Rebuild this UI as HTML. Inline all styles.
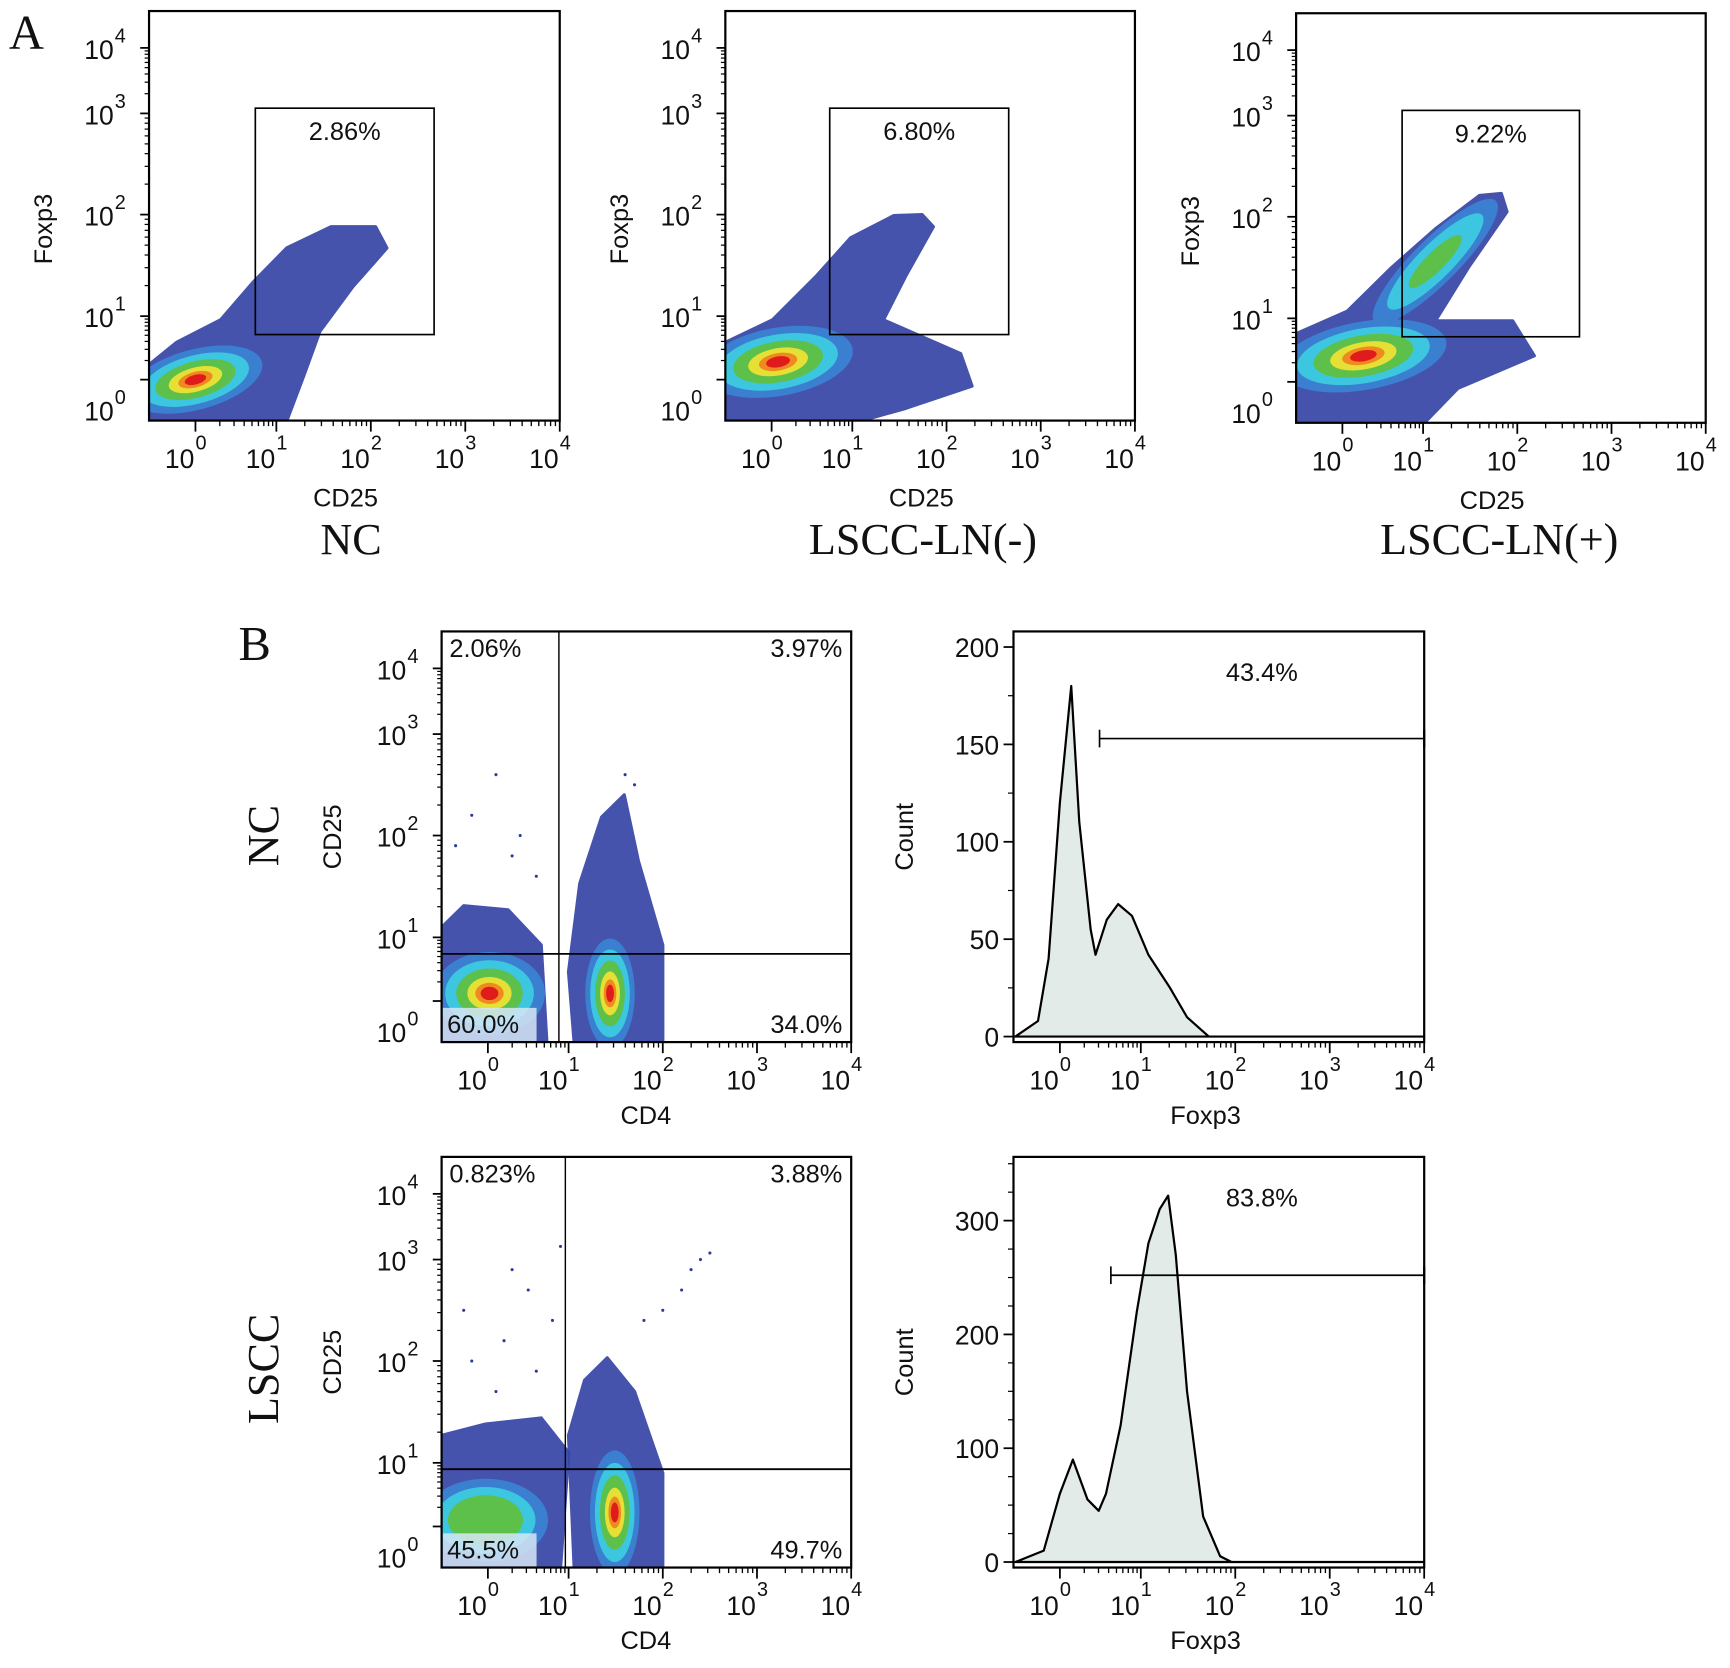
<!DOCTYPE html>
<html><head><meta charset="utf-8"><style>
html,body{margin:0;padding:0;background:#fff;}
svg{display:block;}
text{font-family:"Liberation Sans",Arial,sans-serif;fill:#111;}
.serif{font-family:"Liberation Serif","Times New Roman",serif;}
</style></head><body>
<svg id="fig" width="1730" height="1668" viewBox="0 0 1567 1511" preserveAspectRatio="none" xmlns="http://www.w3.org/2000/svg">
<text class="serif" x="8" y="44" font-size="44">A</text>
<text class="serif" x="216" y="598" font-size="44">B</text>
<text class="serif" x="318" y="502" font-size="40" text-anchor="middle">NC</text>
<text class="serif" x="836" y="502" font-size="40" text-anchor="middle">LSCC-LN(-)</text>
<text class="serif" x="1358" y="502" font-size="40" text-anchor="middle">LSCC-LN(+)</text>
<text class="serif" transform="translate(252,757) rotate(-90)" font-size="40" text-anchor="middle">NC</text>
<text class="serif" transform="translate(252,1240) rotate(-90)" font-size="40" text-anchor="middle">LSCC</text>
</svg>
<script>
// ---- data (decade units for log axes, counts for histograms) ----
const decadeTicks = [0, 1, 2, 3, 4];
const ncHistTicks = [0, 50, 100, 150, 200];
const lsccHistTicks = [0, 100, 200, 300];

const aNcCloud = [[-0.57,-0.65],[-0.57,0.24],[-0.23,0.59],[0.31,0.94],[0.72,1.34],[1.11,1.67],[1.58,1.88],[2.05,1.88],[2.17,1.67],[1.81,1.29],[1.46,0.76],[1.29,0.06],[1.11,-0.65]];
const aNcBlob = [0.0, 0.0, 0.68, 0.38, -15];
const aNcGate = [0.74, 2.67, 0.71, 3.08];
const aNcPct = ["2.86%"];

const aNegCloud = [[-0.57,-0.65],[-0.57,0.59],[0.01,0.94],[0.56,1.4],[0.98,1.77],[1.44,1.99],[1.74,2.0],[1.86,1.88],[1.57,1.4],[1.33,0.94],[2.15,0.41],[2.27,-0.1],[1.57,-0.45],[1.09,-0.65]];
const aNegBlob = [0.08, 0.28, 0.75, 0.43, -10];
const aNegGate = [0.72, 2.66, 0.71, 3.08];
const aNegPct = ["6.80%"];

const aPosCloud = [[-0.57,-0.65],[-0.57,0.76],[0.06,1.07],[0.61,1.5],[1.13,1.88],[1.6,2.21],[1.83,2.23],[1.89,2.05],[1.48,1.5],[1.13,0.96],[1.95,0.96],[2.18,0.41],[1.37,-0.1],[1.01,-0.65]];
const aPosBlob = [0.26, 0.41, 0.82, 0.43, -10];
const aPosStreak = [1.13, 1.56, 0.7, 0.17, -45];
const aPosGate = [0.74, 2.66, 0.71, 3.08];
const aPosPct = ["9.22%"];

const bNcLeftCloud = [[-0.57,-0.65],[-0.57,1.1],[-0.3,1.31],[0.25,1.27],[0.66,0.88],[0.73,-0.65]];
const bNcLeftBlob = [0.02, 0.12, 0.55, 0.52, 0];
const bNcRightCloud = [[1.06,-0.65],[1.0,0.46],[1.12,1.53],[1.35,2.18],[1.59,2.4],[1.74,1.75],[2.0,0.88],[2.0,-0.65]];
const bNcRightBlob = [1.44, 0.12, 0.21, 0.69, 0];
const bNcQuad = [0.88, 0.74];
const bNcPcts = ["2.06%", "3.97%", "60.0%", "34.0%"];
const bNcDots = [[0.1,2.6],[-0.2,2.2],[0.4,2.0],[0.3,1.8],[-0.4,1.9],[0.6,1.6],[1.6,2.6],[1.7,2.5]];

const bLsLeftCloud = [[-0.57,-0.65],[-0.57,1.27],[-0.03,1.38],[0.66,1.44],[1.0,1.1],[0.9,-0.65]];
const bLsLeftBlob = [-0.03, 0.1, 0.62, 0.52, 0];
const bLsRightCloud = [[1.06,-0.65],[1.0,1.27],[1.17,1.81],[1.41,2.03],[1.7,1.7],[2.0,0.84],[2.0,-0.65]];
const bLsRightBlob = [1.49, 0.22, 0.21, 0.78, 0];
const bLsQuad = [0.96, 0.90];
const bLsPcts = ["0.823%", "3.88%", "45.5%", "49.7%"];
const bLsDots = [[2.0,2.5],[2.2,2.7],[2.4,3.0],[2.5,3.1],[2.3,2.9],[1.8,2.4],[0.3,2.9],[0.5,2.7],[0.9,3.2],[0.2,2.2],[-0.2,2.0],[0.6,1.9],[0.1,1.7],[0.8,2.4],[-0.3,2.5]];

const histNcX = [-0.55,-0.27,-0.14,0,0.14,0.24,0.38,0.44,0.58,0.72,0.89,1.08,1.31,1.49,1.72,4];
const histNcY = [0,8,40,120,180,110,55,42,60,68,62,42,25,10,0,0];
const histNcGate = [0.49, 153];
const histNcPct = ["43.4%"];
const histLsX = [-0.55,-0.2,0,0.16,0.34,0.48,0.57,0.75,0.95,1.08,1.2,1.29,1.37,1.49,1.66,1.84,1.96,4];
const histLsY = [0,10,60,90,55,45,60,120,220,280,310,322,270,150,40,5,0,0];
const histLsGate = [0.63, 252];
const histLsPct = ["83.8%"];

// ---- helpers ----
const NS = "http://www.w3.org/2000/svg";
const svg = document.getElementById("fig");
function mk(tag, attrs, parent) {
  const e = document.createElementNS(NS, tag);
  for (const k in attrs) e.setAttribute(k, attrs[k]);
  (parent || svg).appendChild(e);
  return e;
}
const xA = [0.113, 0.31, 0.54, 0.77, 1.0];
const yA = [0.10, 0.255, 0.503, 0.75, 0.91];
function frac(anch, slope0, d) {
  if (d <= 0) return anch[0] + d * slope0;
  const i = Math.min(3, Math.floor(d));
  return anch[i] + (d - i) * (anch[i + 1] - anch[i]);
}
function X(p, d) { return p.x0 + p.w * frac(xA, 0.197, d); }
function Y(p, d) { return p.y0 + p.h * (1 - frac(yA, 0.155, d)); }

function frame(p, name) {
  const r = mk("rect", {x:p.x0, y:p.y0, width:p.w, height:p.h, fill:"none", stroke:"#000", "stroke-width":2});
  
  
}
function label(x, y, s, size, anchor, name, rot) {
  const t = mk("text", {x:x, y:y, "font-size":size, "text-anchor":anchor || "start"});
  if (rot) { t.setAttribute("transform", "rotate(-90 " + x + " " + y + ")"); }
  t.textContent = s;
  
  
  return t;
}
function logXAxis(p, name) {
  const by = p.y0 + p.h;
  for (const d of decadeTicks) {
    const x = X(p, d);
    const t = mk("line", {x1:x, y1:by, x2:x, y2:by + 10, stroke:"#000", "stroke-width":1.6});
    
    
    if (d < 4) for (let k = 2; k < 10; k++) {
      const xm = X(p, d + Math.log10(k));
      const m = mk("line", {x1:xm, y1:by, x2:xm, y2:by + 5, stroke:"#000", "stroke-width":1.2});
      
      
    }
    label(x - 1, by + 43, "10", 24, "end", name + "-x-tick-label");
    label(x, by + 26, String(d), 18, "start", name + "-x-tick-exponent");
  }
}
function logYAxis(p, name) {
  const lx = p.x0;
  for (const d of decadeTicks) {
    const y = Y(p, d);
    const t = mk("line", {x1:lx, y1:y, x2:lx - 8, y2:y, stroke:"#000", "stroke-width":1.6});
    
    
    if (d < 4) for (let k = 2; k < 10; k++) {
      const ym = Y(p, d + Math.log10(k));
      const m = mk("line", {x1:lx, y1:ym, x2:lx - 4, y2:ym, stroke:"#000", "stroke-width":1.1});
      
      
    }
    const base = d === 0 ? p.y0 + p.h + 0 : y + 10;
    label(lx - 32, base, "10", 24, "end", name + "-y-tick-label");
    label(lx - 31, base - 15, String(d), 18, "start", name + "-y-tick-exponent");
  }
}
function cloud(p, pts, name, color) {
  const s = pts.map(q => X(p, q[0]).toFixed(1) + "," + Y(p, q[1]).toFixed(1)).join(" ");
  const e = mk("polygon", {points:s, fill:color || "#3645a6", stroke:color || "#3645a6", "stroke-width":3, "stroke-linejoin":"round", opacity:0.92});
  
  
}
const levelColors = ["#3b7fd0", "#3cc6e0", "#5cc04a", "#e6df35", "#f08a20", "#e01b1b"];
const levelScales = [1.25, 1.0, 0.75, 0.5, 0.32, 0.2];
function blob(p, b, name, nLevels) {
  const cx = X(p, b[0]), cy = Y(p, b[1]);
  const rx = X(p, b[0] + b[2]) - cx, ry = cy - Y(p, b[1] + b[3]);
  const n = nLevels || levelColors.length;
  for (let i = 0; i < n; i++) {
    const e = mk("ellipse", {cx:cx, cy:cy, rx:Math.abs(rx) * levelScales[i], ry:Math.abs(ry) * levelScales[i], fill:levelColors[i], transform:"rotate(" + b[4] + " " + cx + " " + cy + ")"});
    
    
  }
}
function dots(p, list, name) {
  for (const q of list) {
    const c = mk("circle", {cx:X(p, q[0]), cy:Y(p, q[1]), r:1.4, fill:"#2a3a9a"});
    
    
  }
}
function clipTo(p, id) {
  const cp = mk("clipPath", {id:id});
  mk("rect", {x:p.x0, y:p.y0, width:p.w, height:p.h}, cp);
  const g = mk("g", {"clip-path":"url(#" + id + ")"});
  return g;
}

// ---- Panel A ----
function panelA(p, cloudPts, blobArr, gate, pct, name, extra) {
  const g = clipTo(p, name + "-clip");
  
  
  cloud(p, cloudPts, name + "-event-cloud");
  g.appendChild(svg.lastChild);
  if (extra) { blobInto(g, p, extra, name + "-streak", [0, 1, 2]); }
  const before = svg.childNodes.length;
  blob(p, blobArr, name + "-main-population");
  while (svg.childNodes.length > before) g.appendChild(svg.childNodes[before]);
  frame(p, name);
  logXAxis(p, name);
  logYAxis(p, name);
  const gx1 = X(p, gate[0]), gx2 = X(p, gate[1]), gy1 = Y(p, gate[3]), gy2 = Y(p, gate[2]);
  const r = mk("rect", {x:gx1, y:gy1, width:gx2 - gx1, height:gy2 - gy1, fill:"none", stroke:"#000", "stroke-width":1.5});
  
  
  label((gx1 + gx2) / 2, gy1 + 29, pct[0], 23, "middle", name + "-gate-percent");
  label((p.x0 + p.x0 + p.w) / 2 - 8, p.y0 + p.h + 78, "CD25", 23, "middle", name + "-x-title");
  label(p.x0 - 88, p.y0 + p.h / 2 - 10 + 22, "Foxp3", 23, "middle", name + "-y-title", true);
}
function blobInto(g, p, b, name, idx) {
  const cx = X(p, b[0]), cy = Y(p, b[1]);
  const rx = X(p, b[0] + b[2]) - cx, ry = cy - Y(p, b[1] + b[3]);
  const cols = ["#3b7fd0", "#3cc6e0", "#5cc04a"];
  const sc = [1.3, 1.0, 0.55];
  for (const i of idx) {
    const e = mk("ellipse", {cx:cx, cy:cy, rx:rx * sc[i], ry:ry * sc[i], fill:cols[i], transform:"rotate(" + b[4] + " " + cx + " " + cy + ")"}, g);
    
    
  }
}
panelA({x0:135, y0:10, w:372, h:371}, aNcCloud, aNcBlob, aNcGate, aNcPct, "a-nc");
panelA({x0:657, y0:10, w:371, h:371}, aNegCloud, aNegBlob, aNegGate, aNegPct, "a-lscc-ln-neg");
panelA({x0:1174, y0:12, w:371, h:371}, aPosCloud, aPosBlob, aPosGate, aPosPct, "a-lscc-ln-pos", aPosStreak);

// ---- Panel B scatter ----
function panelBScatter(p, lc, lb, rc, rb, quad, pcts, dl, name, leftLevels) {
  const g = clipTo(p, name + "-clip");
  
  
  let before = svg.childNodes.length;
  cloud(p, lc, name + "-cd4-neg-cloud");
  cloud(p, rc, name + "-cd4-pos-cloud");
  blob(p, lb, name + "-cd4-neg-population", leftLevels);
  blob(p, rb, name + "-cd4-pos-population");
  dots(p, dl, name + "-sparse-event");
  while (svg.childNodes.length > before) g.appendChild(svg.childNodes[before]);
  const bg = mk("rect", {x:p.x0 + 1, y:p.y0 + p.h - 31, width:85, height:30, fill:"#d6e6f4", opacity:0.85}, g);
  
  
  frame(p, name);
  logXAxis(p, name);
  logYAxis(p, name);
  const qx = X(p, quad[0]), qy = Y(p, quad[1]);
  const v = mk("line", {x1:qx, y1:p.y0, x2:qx, y2:p.y0 + p.h, stroke:"#000", "stroke-width":1.3});
  
  
  const h = mk("line", {x1:p.x0, y1:qy, x2:p.x0 + p.w, y2:qy, stroke:"#000", "stroke-width":1.6});
  
  
  label(p.x0 + 7, p.y0 + 23, pcts[0], 23, "start", name + "-ul-percent");
  label(p.x0 + p.w - 8, p.y0 + 23, pcts[1], 23, "end", name + "-ur-percent");
  label(p.x0 + 5, p.y0 + p.h - 8, pcts[2], 23, "start", name + "-ll-percent");
  label(p.x0 + p.w - 8, p.y0 + p.h - 8, pcts[3], 23, "end", name + "-lr-percent");
  label(p.x0 + 185, p.y0 + p.h + 74, "CD4", 23, "middle", name + "-x-title");
  label(p.x0 - 91, p.y0 + p.h / 2 + 0, "CD25", 23, "middle", name + "-y-title", true);
}
panelBScatter({x0:400, y0:572, w:371, h:372}, bNcLeftCloud, bNcLeftBlob, bNcRightCloud, bNcRightBlob, bNcQuad, bNcPcts, bNcDots, "b-nc-scatter");
panelBScatter({x0:400, y0:1048, w:371, h:372}, bLsLeftCloud, bLsLeftBlob, bLsRightCloud, bLsRightBlob, bLsQuad, bLsPcts, bLsDots, "b-lscc-scatter", 3);

// ---- Panel B histograms ----
function hist(p, xs, ys, yMax, ticks, minorStep, gate, pct, name) {
  const base = p.y0 + p.h - 5;
  const Yc = c => base - c / yMax * (p.h - 5);
  let d = "M" + X(p, xs[0]).toFixed(1) + "," + base;
  for (let i = 0; i < xs.length; i++) d += " L" + X(p, Math.min(xs[i], 4)).toFixed(1) + "," + Yc(ys[i]).toFixed(1);
  d += " L" + (p.x0 + p.w) + "," + base + " Z";
  const path = mk("path", {d:d, fill:"#e3ebe8", stroke:"#000", "stroke-width":2, "stroke-linejoin":"round"});
  
  
  frame(p, name);
  logXAxis(p, name);
  for (let c = 0; c <= yMax; c += minorStep) {
    const major = ticks.indexOf(c) >= 0;
    const t = mk("line", {x1:p.x0, y1:Yc(c), x2:p.x0 - (major ? 9 : 5), y2:Yc(c), stroke:"#000", "stroke-width":major ? 1.6 : 1.1});
    
    
  }
  for (const c of ticks) label(p.x0 - 13, Yc(c) + 9, String(c), 24, "end", name + "-y-tick-label");
  const gx = X(p, gate[0]), gy = Yc(gate[1]);
  const gl = mk("line", {x1:gx, y1:gy, x2:p.x0 + p.w, y2:gy, stroke:"#000", "stroke-width":1.5});
  
  
  const ge = mk("line", {x1:gx, y1:gy - 8, x2:gx, y2:gy + 8, stroke:"#000", "stroke-width":1.5});
  
  
  const ge2 = mk("line", {x1:p.x0 + p.w, y1:gy - 8, x2:p.x0 + p.w, y2:gy + 8, stroke:"#000", "stroke-width":2});
  
  
  label(p.x0 + 225, p.y0 + 45, pct[0], 23, "middle", name + "-gate-percent");
  label(p.x0 + 174, p.y0 + p.h + 74, "Foxp3", 23, "middle", name + "-x-title");
  label(p.x0 - 91, p.y0 + p.h / 2 + 0, "Count", 23, "middle", name + "-y-title", true);
}
hist({x0:918, y0:572, w:372, h:372}, histNcX, histNcY, 208, ncHistTicks, 25, histNcGate, histNcPct, "b-nc-histogram");
hist({x0:918, y0:1048, w:372, h:372}, histLsX, histLsY, 356, lsccHistTicks, 25, histLsGate, histLsPct, "b-lscc-histogram");
</script>
</body></html>
